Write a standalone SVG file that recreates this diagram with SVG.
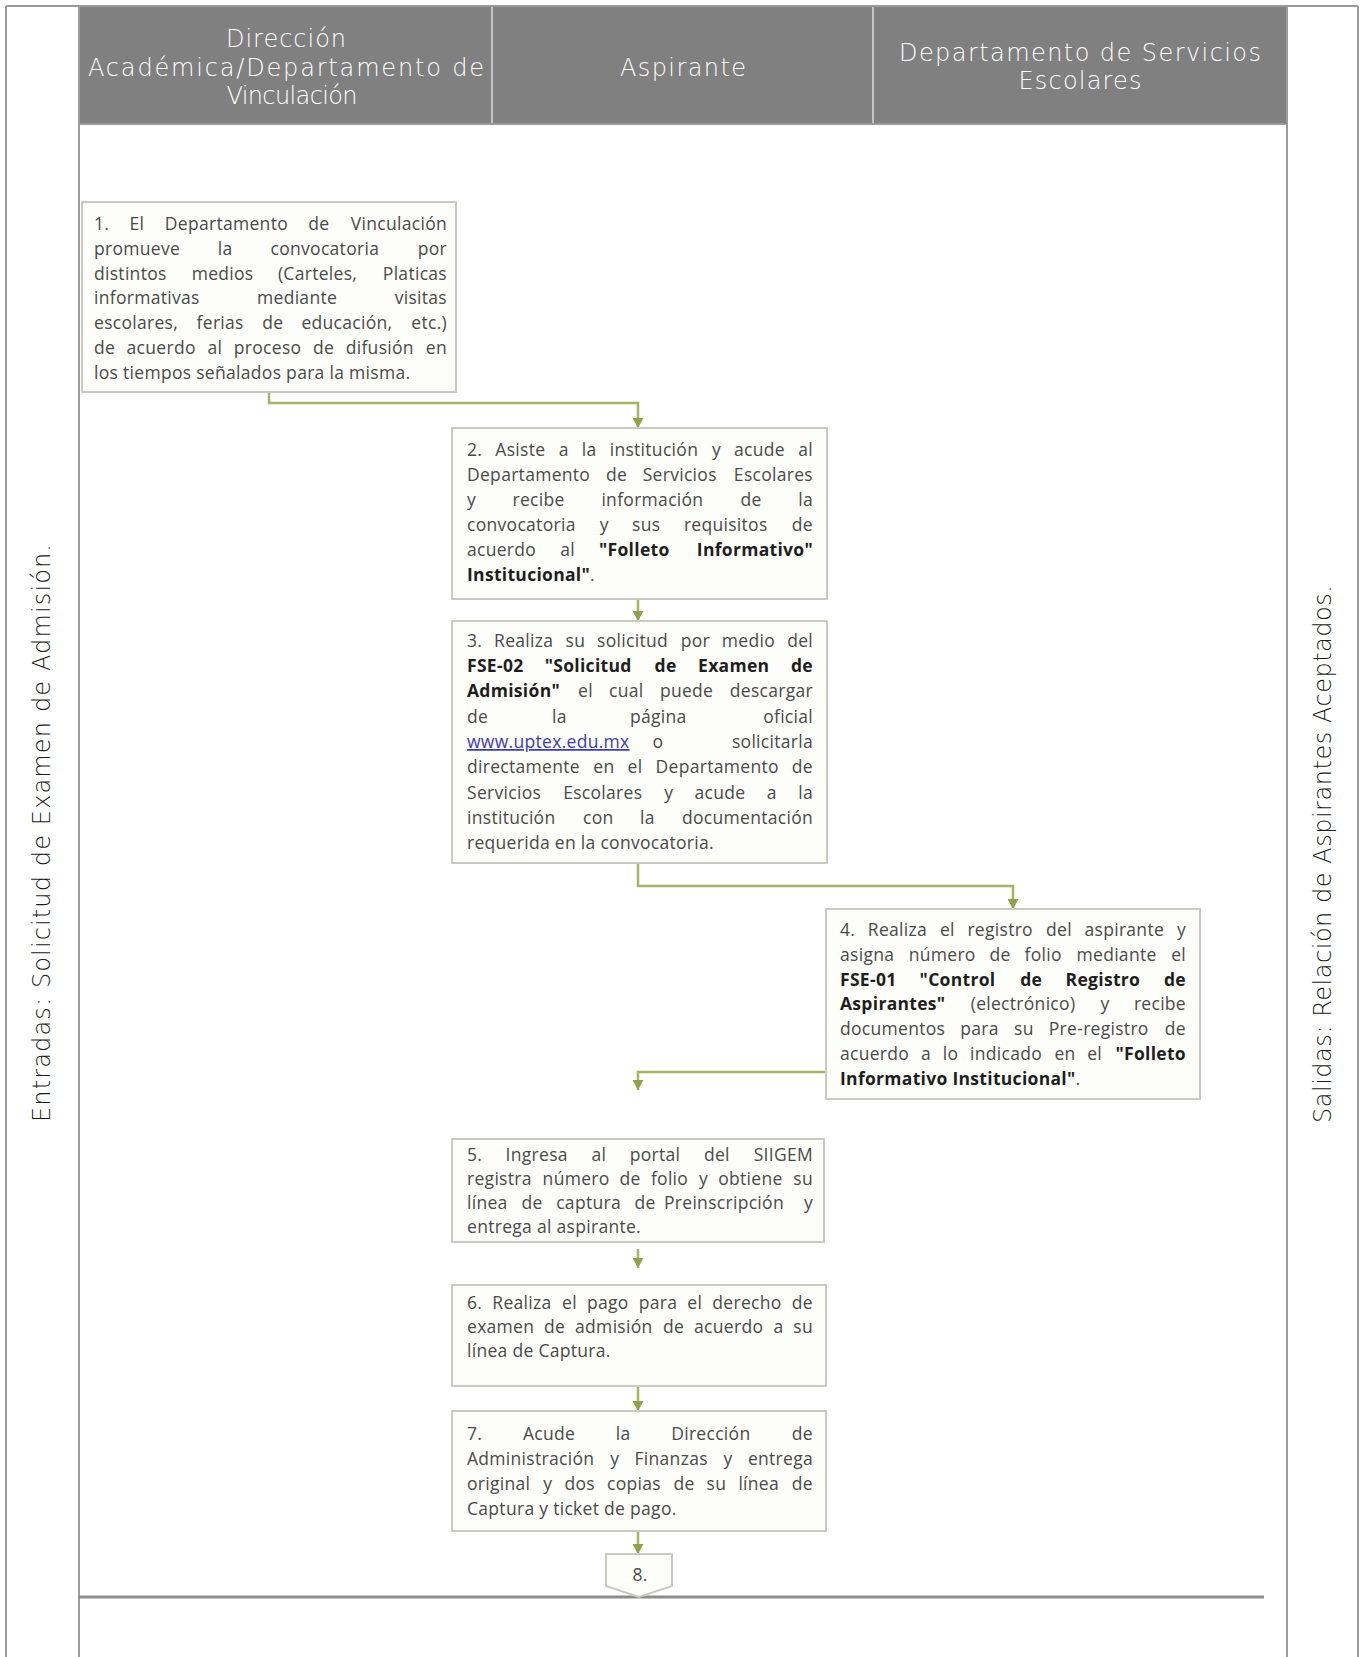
<svg xmlns="http://www.w3.org/2000/svg" width="1360" height="1657" viewBox="0 0 1360 1657">
<defs>
<style>
.frame{stroke:#9a9a9a;stroke-width:2;fill:none}
.hd{font-family:"DejaVu Sans","Liberation Sans",sans-serif;font-weight:200;font-size:24px;fill:#ffffff;text-anchor:middle}
.side{font-family:"DejaVu Sans","Liberation Sans",sans-serif;font-weight:200;font-size:24px;fill:#1a1a1a;text-anchor:middle}
.box{fill:#fdfdf9;stroke:#cacac2;stroke-width:2}
.t{font-family:"Open Sans","Noto Sans","Liberation Sans",sans-serif;font-size:17.5px;letter-spacing:0.3px;fill:#4a4a4a}
.b{font-weight:700;fill:#1e1e1e}
.e{text-anchor:end}
.m{text-anchor:middle}
.lnk{fill:#3c3cb4;text-decoration:underline}
.con{fill:none;stroke:#a3b466;stroke-width:2.5}
</style>
<marker id="ah" markerUnits="userSpaceOnUse" markerWidth="11" markerHeight="11" refX="10" refY="5.5" orient="auto">
<path d="M0,0 L10,5.5 L0,11 Z" fill="#8ea24c"/>
</marker>
</defs>
<rect width="1360" height="1657" fill="#ffffff"/>
<g id="header">
<rect x="79" y="6" width="1208" height="118" fill="#808080"/>
<line x1="492" y1="6" x2="492" y2="124" stroke="#c4c4c4" stroke-width="2"/>
<line x1="873" y1="6" x2="873" y2="124" stroke="#c4c4c4" stroke-width="2"/>
<text class="hd" x="286" y="47" textLength="120" lengthAdjust="spacing">Dirección</text>
<text class="hd" x="286" y="76" textLength="396" lengthAdjust="spacing">Académica/Departamento de</text>
<text class="hd" x="292" y="104" textLength="131" lengthAdjust="spacing">Vinculación</text>
<text class="hd" x="683" y="76" textLength="126" lengthAdjust="spacing">Aspirante</text>
<text class="hd" x="1080" y="61" textLength="362" lengthAdjust="spacing">Departamento de Servicios</text>
<text class="hd" x="1080" y="89" textLength="123" lengthAdjust="spacing">Escolares</text>
</g>
<g id="frame">
<line class="frame" x1="6" y1="6" x2="1358" y2="6"/>
<line class="frame" x1="6" y1="6" x2="6" y2="1657"/>
<line class="frame" x1="1358" y1="6" x2="1358" y2="1657"/>
<line class="frame" x1="79" y1="6" x2="79" y2="1657"/>
<line class="frame" x1="1287" y1="6" x2="1287" y2="1657"/>
<line class="frame" x1="79" y1="124" x2="1287" y2="124"/>
<line x1="79" y1="1597" x2="1264" y2="1597" stroke="#8c8c8c" stroke-width="3"/>
</g>
<g id="inputs">
<text class="side" transform="translate(50,833) rotate(-90)" textLength="578" lengthAdjust="spacing">Entradas: Solicitud de Examen de Admisión.</text>
</g>
<g id="outputs">
<text class="side" transform="translate(1331,854) rotate(-90)" textLength="538" lengthAdjust="spacing">Salidas: Relación de Aspirantes Aceptados.</text>
</g>
<g id="connectors">
<polyline class="con" points="269,392 269,403 638,403 638,428" marker-end="url(#ah)"/>
<polyline class="con" points="638,599 638,621" marker-end="url(#ah)"/>
<polyline class="con" points="638,863 638,886 1013,886 1013,909" marker-end="url(#ah)"/>
<polyline class="con" points="826,1072 638,1072 638,1090" marker-end="url(#ah)"/>
<polyline class="con" points="638,1249 638,1268" marker-end="url(#ah)"/>
<polyline class="con" points="638,1386 638,1411" marker-end="url(#ah)"/>
<polyline class="con" points="638,1531 638,1554" marker-end="url(#ah)"/>
</g>
<g id="step1">
<rect class="box" x="82" y="202" width="374" height="190"/>
<text class="t" y="230"><tspan x="94">1.</tspan><tspan x="129.6">El</tspan><tspan x="164.8">Departamento</tspan><tspan x="308.3">de</tspan></text><text class="t e" x="447" y="230">Vinculación</text>
<text class="t" y="255"><tspan x="94">promueve</tspan><tspan x="217.8">la</tspan><tspan x="270.5">convocatoria</tspan></text><text class="t e" x="447" y="255">por</text>
<text class="t" y="280"><tspan x="94">distintos</tspan><tspan x="191.7">medios</tspan><tspan x="277.9">(Carteles,</tspan></text><text class="t e" x="447" y="280">Platicas</text>
<text class="t" y="304"><tspan x="94">informativas</tspan><tspan x="257">mediante</tspan></text><text class="t e" x="447" y="304">visitas</text>
<text class="t" y="329"><tspan x="94">escolares,</tspan><tspan x="196.6">ferias</tspan><tspan x="262.3">de</tspan><tspan x="301.4">educación,</tspan></text><text class="t e" x="447" y="329">etc.)</text>
<text class="t" y="354"><tspan x="94">de</tspan><tspan x="126.6">acuerdo</tspan><tspan x="207.4">al</tspan><tspan x="233.8">proceso</tspan><tspan x="313.1">de</tspan><tspan x="345.7">difusión</tspan></text><text class="t e" x="447" y="354">en</text>
<text class="t" x="94" y="379">los tiempos señalados para la misma.</text>
</g>
<g id="step2">
<rect class="box" x="452" y="428" width="375" height="171"/>
<text class="t" y="456"><tspan x="467">2.</tspan><tspan x="495.3">Asiste</tspan><tspan x="558.8">a</tspan><tspan x="581.8">la</tspan><tspan x="609.7">institución</tspan><tspan x="712.1">y</tspan><tspan x="734.1">acude</tspan></text><text class="t e" x="813" y="456">al</text>
<text class="t" y="481"><tspan x="467">Departamento</tspan><tspan x="605.9">de</tspan><tspan x="642.7">Servicios</tspan></text><text class="t e" x="813" y="481">Escolares</text>
<text class="t" y="506"><tspan x="467">y</tspan><tspan x="512.5">recibe</tspan><tspan x="601.4">información</tspan><tspan x="740.5">de</tspan></text><text class="t e" x="813" y="506">la</text>
<text class="t" y="531"><tspan x="467">convocatoria</tspan><tspan x="599.7">y</tspan><tspan x="632.1">sus</tspan><tspan x="683.9">requisitos</tspan></text><text class="t e" x="813" y="531">de</text>
<text class="t" y="556"><tspan x="467">acuerdo</tspan><tspan x="560.2">al</tspan><tspan x="599" class="b">"Folleto</tspan></text><text class="t b e" x="813" y="556">Informativo"</text>
<text class="t" x="467" y="581"><tspan class="b">Institucional"</tspan>.</text>
</g>
<g id="step3">
<rect class="box" x="452" y="621" width="375" height="242"/>
<text class="t" y="647"><tspan x="467">3.</tspan><tspan x="494.1">Realiza</tspan><tspan x="565.6">su</tspan><tspan x="597.1">solicitud</tspan><tspan x="680.7">por</tspan><tspan x="721.8">medio</tspan></text><text class="t e" x="813" y="647">del</text>
<text class="t b" y="672"><tspan x="467">FSE-02</tspan><tspan x="544.7">"Solicitud</tspan><tspan x="654.6">de</tspan><tspan x="698.1">Examen</tspan></text><text class="t b e" x="813" y="672">de</text>
<text class="t" y="697"><tspan x="467" class="b">Admisión"</tspan><tspan x="578">el</tspan><tspan x="609.1">cual</tspan><tspan x="659.9">puede</tspan></text><text class="t e" x="813" y="697">descargar</text>
<text class="t" y="723"><tspan x="467">de</tspan><tspan x="552">la</tspan><tspan x="630">página</tspan></text><text class="t e" x="813" y="723">oficial</text>
<text class="t lnk" x="467" y="748">www.uptex.edu.mx</text><text class="t m" x="658" y="748">o</text><text class="t e" x="813" y="748">solicitarla</text>
<text class="t" y="773"><tspan x="467">directamente</tspan><tspan x="593.3">en</tspan><tspan x="627.5">el</tspan><tspan x="655.6">Departamento</tspan></text><text class="t e" x="813" y="773">de</text>
<text class="t" y="799"><tspan x="467">Servicios</tspan><tspan x="563.2">Escolares</tspan><tspan x="664.2">y</tspan><tspan x="694.5">acude</tspan><tspan x="766.7">a</tspan></text><text class="t e" x="813" y="799">la</text>
<text class="t" y="824"><tspan x="467">institución</tspan><tspan x="583">con</tspan><tspan x="640.1">la</tspan></text><text class="t e" x="813" y="824">documentación</text>
<text class="t" x="467" y="849">requerida en la convocatoria.</text>
</g>
<g id="step4">
<rect class="box" x="826" y="909" width="374" height="190"/>
<text class="t" y="936"><tspan x="840">4.</tspan><tspan x="867.8">Realiza</tspan><tspan x="939.9">el</tspan><tspan x="967.4">registro</tspan><tspan x="1046">del</tspan><tspan x="1084.5">aspirante</tspan></text><text class="t e" x="1186" y="936">y</text>
<text class="t" y="961"><tspan x="840">asigna</tspan><tspan x="908.7">número</tspan><tspan x="989.5">de</tspan><tspan x="1024.6">folio</tspan><tspan x="1076.5">mediante</tspan></text><text class="t e" x="1186" y="961">el</text>
<text class="t b" y="986"><tspan x="840">FSE-01</tspan><tspan x="919.6">"Control</tspan><tspan x="1020.2">de</tspan><tspan x="1065.6">Registro</tspan></text><text class="t b e" x="1186" y="986">de</text>
<text class="t" y="1010"><tspan x="840" class="b">Aspirantes"</tspan><tspan x="970.7">(electrónico)</tspan><tspan x="1100.4">y</tspan></text><text class="t e" x="1186" y="1010">recibe</text>
<text class="t" y="1035"><tspan x="840">documentos</tspan><tspan x="960.3">para</tspan><tspan x="1014">su</tspan><tspan x="1048.8">Pre-registro</tspan></text><text class="t e" x="1186" y="1035">de</text>
<text class="t" y="1060"><tspan x="840">acuerdo</tspan><tspan x="921">a</tspan><tspan x="942.7">lo</tspan><tspan x="970.1">indicado</tspan><tspan x="1054.4">en</tspan><tspan x="1087.2">el</tspan></text><text class="t b e" x="1186" y="1060">"Folleto</text>
<text class="t" x="840" y="1085"><tspan class="b">Informativo Institucional"</tspan>.</text>
</g>
<g id="step5">
<rect class="box" x="452" y="1139" width="372" height="103"/>
<text class="t" y="1161"><tspan x="467">5.</tspan><tspan x="505.6">Ingresa</tspan><tspan x="591.5">al</tspan><tspan x="629.7">portal</tspan><tspan x="703.9">del</tspan></text><text class="t e" x="813" y="1161">SIIGEM</text>
<text class="t" y="1185"><tspan x="467">registra</tspan><tspan x="542.6">número</tspan><tspan x="619.6">de</tspan><tspan x="650.9">folio</tspan><tspan x="699">y</tspan><tspan x="718.2">obtiene</tspan></text><text class="t e" x="813" y="1185">su</text>
<text class="t" y="1209"><tspan x="467">línea</tspan><tspan x="521.6">de</tspan><tspan x="556.2">captura</tspan><tspan x="634.6">de</tspan><tspan x="664">Preinscripción</tspan></text><text class="t e" x="813" y="1209">y</text>
<text class="t" x="467" y="1233">entrega al aspirante.</text>
</g>
<g id="step6">
<rect class="box" x="452" y="1285" width="374" height="101"/>
<text class="t" y="1309"><tspan x="467">6.</tspan><tspan x="492.3">Realiza</tspan><tspan x="562">el</tspan><tspan x="587">pago</tspan><tspan x="638.7">para</tspan><tspan x="687.3">el</tspan><tspan x="712.3">derecho</tspan></text><text class="t e" x="813" y="1309">de</text>
<text class="t" y="1333"><tspan x="467">examen</tspan><tspan x="544">de</tspan><tspan x="575.1">admisión</tspan><tspan x="663">de</tspan><tspan x="694.1">acuerdo</tspan><tspan x="773.4">a</tspan></text><text class="t e" x="813" y="1333">su</text>
<text class="t" x="467" y="1357">línea de Captura.</text>
</g>
<g id="step7">
<rect class="box" x="452" y="1411" width="374" height="120"/>
<text class="t" y="1440"><tspan x="467">7.</tspan><tspan x="522.9">Acude</tspan><tspan x="615.7">la</tspan><tspan x="671.2">Dirección</tspan></text><text class="t e" x="813" y="1440">de</text>
<text class="t" y="1465"><tspan x="467">Administración</tspan><tspan x="610.3">y</tspan><tspan x="634.5">Finanzas</tspan><tspan x="723.4">y</tspan></text><text class="t e" x="813" y="1465">entrega</text>
<text class="t" y="1490"><tspan x="467">original</tspan><tspan x="543.3">y</tspan><tspan x="564.4">dos</tspan><tspan x="607">copias</tspan><tspan x="673.4">de</tspan><tspan x="706.6">su</tspan><tspan x="738.4">línea</tspan></text><text class="t e" x="813" y="1490">de</text>
<text class="t" x="467" y="1515">Captura y ticket de pago.</text>
</g>
<g id="step8">
<path class="box" d="M606,1554 H672 V1586 L639,1597 L606,1586 Z"/>
<text class="t m" x="640" y="1581">8.</text>
</g>
</svg>
